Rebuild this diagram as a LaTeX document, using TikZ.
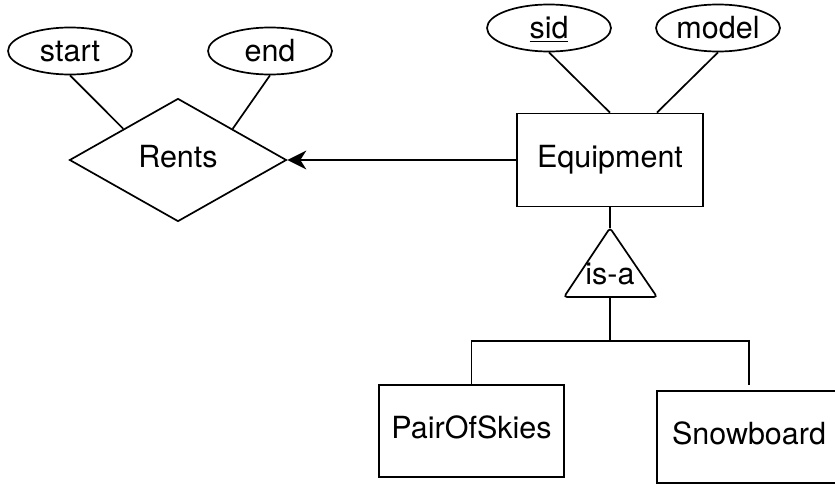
\documentclass[tikz,border=0pt]{standalone}
\usepackage{fontspec}
\setmainfont{TeX Gyre Heros}
\usetikzlibrary{shapes.geometric,arrows.meta,calc}

\tikzset{
  every node/.style={font=\fontsize{30.5}{36}\selectfont, inner sep=0pt},
  attr/.style={draw, ellipse, minimum width=124pt, minimum height=47pt,
               text height=22pt, text depth=0pt},
  entity/.style={draw, rectangle, minimum width=186pt, minimum height=93pt,
                 text height=22pt, text depth=6.4pt},
  relation/.style={draw, diamond, minimum width=217pt, minimum height=123pt,
                   text height=22pt, text depth=6.4pt},
  link/.style={draw, line width=1.7pt},
  keyline/.style={link, -{Stealth[length=19pt,width=19pt,inset=6pt]}},
}

\begin{document}
\begin{tikzpicture}[x=1pt, y=-1pt, line width=1.7pt]
  \path[use as bounding box, clip] (0,0) rectangle (835,484);

  % relationship and its attributes
  \node[relation] (rents) at (178,160) {Rents};
  \node[attr] (start) at (70,51) {start};
  \node[attr] (end)   at (270,51) {end};

  % entity and its attributes
  \node[entity] (eq) at (610,160) {Equipment};
  \node[attr] (sid)   at (549,28) {\underline{sid}};
  \node[attr] (model) at (718,28) {model};

  % subclasses
  \node[entity, minimum width=185pt, minimum height=92pt] (skies) at (471.5,431) {PairOfSkies};
  \node[entity, minimum width=184pt, minimum height=92pt] (snow)  at (749,437) {Snowboard};

  % is-a triangle
  \coordinate (isatop) at (610,228);
  \coordinate (isabot) at (610,297);
  \draw[rounded corners=3pt] (564,297) -- (isatop) -- (657,297) -- cycle;
  \node[anchor=base] (isa) at (610,284) {is-a};

  % connectors
  \draw[link] (start.south) -- (rents.north west);
  \draw[link] (end.south) -- (rents.north east);
  \draw[link] (sid.south) -- (eq.north);
  \draw[link] (model.south) -- ($(eq.north)!0.5!(eq.north east)$);
  \draw[keyline] (eq.west) -- (rents.east);
  \draw[link] (eq.south) -- (isatop);

  \coordinate (fork) at (610,341);
  \coordinate (snowend) at (749,385);
  \draw[link] (isabot) -- (fork);
  \draw[link] (skies.north) |- (fork) -| (snowend);
\end{tikzpicture}
\end{document}
